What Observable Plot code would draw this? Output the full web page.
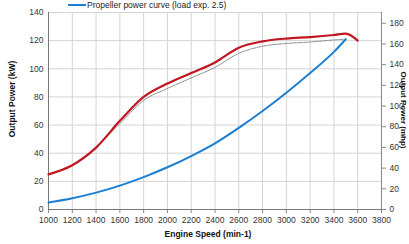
<!DOCTYPE html>
<html><head><meta charset="utf-8">
<script src="https://cdn.jsdelivr.net/npm/d3@7"></script>
<script src="https://cdn.jsdelivr.net/npm/@observablehq/plot@0.6"></script>
<style>
body{margin:0;background:#fff;font-family:"Liberation Sans",Arial,sans-serif;}
#wrap{position:relative;width:409px;height:244px;overflow:hidden;}
#legend{position:absolute;left:68px;top:0px;font-size:8.5px;line-height:10px;color:#222;white-space:nowrap;display:flex;align-items:center;}
#legend span.sw{display:inline-block;width:18px;height:2px;background:#1a7fd4;margin-right:1px;}
</style></head>
<body><div id="wrap"><div id="legend"><span class="sw"></span>Propeller power curve (load exp. 2.5)</div></div>
<script>
const rpmRed = [1000,1200,1400,1600,1800,2000,2200,2400,2600,2800,3000,3200,3400,3500,3600];
const kwRed  = [25,31.5,44,63,80,89.5,97,104.5,115,119.5,121.5,122.5,124,125,120];
const rpmGray = [1400,1600,1800,2000,2200,2400,2600,2800,3000,3200,3400,3500];
const kwGray  = [44,61,77.5,86,93.5,101,111,116,118,119,120.5,121];
const rpmBlue = [1000,1200,1400,1600,1800,2000,2200,2400,2600,2800,3000,3200,3400,3500];
const kwBlue  = [5,8,12,17,23,30,38,47,58,70,83,97,112,121];
const xTicks = d3.range(1000,3801,200);
const yTicks = d3.range(0,141,20);
const mhpTicks = d3.range(0,181,20);
const KW2MHP = 1.36;

const red = rpmRed.map((x,i)=>({x,y:kwRed[i]}));
const gray = rpmGray.map((x,i)=>({x,y:kwGray[i]}));
const blue = rpmBlue.map((x,i)=>({x,y:kwBlue[i]}));

const chart = Plot.plot({
  width:409, height:244,
  marginLeft:48, marginRight:28, marginTop:12, marginBottom:35,
  style:{fontFamily:"Liberation Sans, Arial, sans-serif", fontSize:"8.5px", color:"#333", background:"white"},
  x:{domain:[1000,3800]},
  y:{domain:[0,140]},
  marks:[
    Plot.gridX(xTicks,{stroke:"#d4d4d4", strokeOpacity:1, strokeWidth:1}),
    Plot.gridY(yTicks,{stroke:"#d4d4d4", strokeOpacity:1, strokeWidth:1}),
    Plot.axisX(xTicks,{tickSize:4, tickPadding:3, stroke:"#888", label:null, tickFormat:d=>String(d)}),
    Plot.axisY(yTicks,{tickSize:0, tickPadding:5, label:null, tickFormat:d=>String(d)}),
    Plot.axisY(mhpTicks.map(m=>m/KW2MHP),{anchor:"right", tickSize:4, tickPadding:4, stroke:"#888", label:null, tickFormat:d=>String(Math.round(d*KW2MHP))}),
    Plot.ruleX([1000],{stroke:"#777"}),
    Plot.ruleX([3800],{stroke:"#888"}),
    Plot.ruleY([0],{stroke:"#777"}),
    Plot.line(gray,{x:"x",y:"y",stroke:"#888",strokeWidth:1,strokeDasharray:"1.5,1",curve:"monotone-x"}),
    Plot.line(blue,{x:"x",y:"y",stroke:"#1a7fd4",strokeWidth:2,curve:"monotone-x"}),
    Plot.line(red,{x:"x",y:"y",stroke:"#c0161f",strokeWidth:2.2,curve:"monotone-x"})
  ]
});
const svg = d3.select(chart);
svg.append("text").attr("transform","translate(15,99) rotate(-90)").attr("text-anchor","middle")
  .attr("font-weight","bold").attr("font-size","8.5px").attr("fill","#111").text("Output Power (kW)");
svg.append("text").attr("transform","translate(401,110) rotate(90)").attr("text-anchor","middle")
  .attr("font-weight","bold").attr("font-size","8px").attr("fill","#111").text("Output Power (mhp)");
svg.append("text").attr("x",208).attr("y",237).attr("text-anchor","middle")
  .attr("font-weight","bold").attr("font-size","8.5px").attr("fill","#111").text("Engine Speed (min-1)");
document.getElementById("wrap").prepend(chart);
</script></body></html>
